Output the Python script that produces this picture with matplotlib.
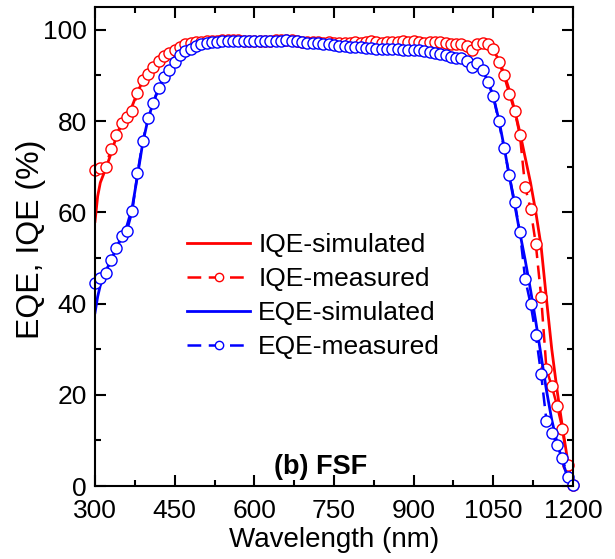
import numpy as np
import matplotlib
matplotlib.use("Agg")
import matplotlib.pyplot as plt
from matplotlib.ticker import MultipleLocator

plt.rcParams["font.family"] = ["Liberation Sans", "DejaVu Sans"]

# measured data, 10 nm steps from 300 to 1200 nm
wl_meas = np.arange(300, 1201, 10)

iqe_meas = [
    69.2, 69.6, 69.9, 73.8, 76.9, 79.5, 80.8, 82.3, 86.1, 89.0,
    90.4, 91.8, 93.1, 94.2, 94.9, 95.6, 96.2, 96.8, 97.1, 97.3,
    97.4, 97.5, 97.6, 97.6, 97.7, 97.7, 97.7, 97.7, 97.6, 97.6,
    97.6, 97.6, 97.6, 97.6, 97.7, 97.8, 97.8, 97.7, 97.6, 97.4,
    97.4, 97.3, 97.3, 97.2, 97.3, 97.2, 97.0, 97.1, 97.2, 97.3,
    97.2, 97.3, 97.5, 97.4, 97.2, 97.4, 97.3, 97.4, 97.5, 97.4,
    97.5, 97.3, 97.2, 97.4, 97.3, 97.3, 97.1, 96.9, 96.8, 96.8,
    96.5, 95.5, 96.8, 97.1, 96.8, 95.8, 92.9, 90.0, 86.0, 82.3,
    76.9, 65.5, 60.8, 53.0, 41.5, 25.6, 21.9, 17.6, 12.6, 4.5,
    0.3,
]

eqe_meas = [
    44.5, 45.7, 46.7, 49.6, 52.2, 54.7, 55.9, 60.2, 68.6, 75.6,
    80.6, 84.0, 87.2, 89.6, 91.2, 93.0, 94.4, 95.3, 95.9, 96.4,
    96.8, 97.1, 97.3, 97.4, 97.5, 97.5, 97.5, 97.5, 97.5, 97.5,
    97.5, 97.5, 97.5, 97.5, 97.6, 97.6, 97.7, 97.6, 97.5, 97.3,
    97.2, 97.1, 97.0, 96.9, 96.8, 96.7, 96.5, 96.4, 96.3, 96.3,
    96.2, 96.1, 96.0, 95.9, 95.8, 95.8, 95.7, 95.7, 95.6, 95.6,
    95.5, 95.5, 95.4, 95.2, 95.0, 94.7, 94.4, 94.1, 93.9, 93.8,
    93.1, 91.8, 92.7, 91.1, 88.5, 85.4, 80.0, 74.2, 68.1, 62.3,
    55.7, 45.3, 40.0, 33.1, 24.5, 14.3, 11.7, 9.0, 6.1, 2.0,
    0.2,
]

# simulated curves
wl_iqe_sim = [
    300, 305, 310, 320, 330, 340, 350, 360, 370, 380, 390, 400, 410, 420,
    430, 440, 450, 460, 470, 480, 500, 550, 600, 650, 700, 750, 800, 850,
    900, 950, 1000, 1020, 1040, 1050, 1060, 1070, 1080, 1090, 1100, 1110,
    1120, 1130, 1140, 1150, 1160, 1170, 1180, 1190, 1197,
]
iqe_sim = [
    58.0, 63.5, 66.5, 69.5, 72.8, 76.5, 79.3, 81.3, 83.3, 86.3, 88.8, 90.6, 92.0, 93.2,
    94.2, 95.0, 95.7, 96.3, 96.8, 97.1, 97.4, 97.7, 97.7, 97.8, 97.5, 97.3, 97.3, 97.4,
    97.4, 97.3, 96.9, 96.7, 96.3, 95.5, 93.5, 90.5, 86.8, 82.5, 77.5, 72.0,
    66.5, 60.0, 52.5, 41.0, 30.0, 21.0, 13.0, 5.5, 0.5,
]

wl_eqe_sim = [
    300, 305, 310, 320, 330, 340, 350, 360, 370, 380, 390, 400, 410, 420,
    430, 440, 450, 460, 470, 480, 500, 520, 550, 600, 650, 700, 750, 800,
    850, 900, 950, 1000, 1020, 1030, 1040, 1050, 1060, 1070, 1080, 1090,
    1100, 1110, 1120, 1130, 1140, 1150, 1160, 1170, 1180, 1190, 1196,
]
eqe_sim = [
    38.0, 41.5, 44.0, 47.0, 49.5, 52.0, 54.5, 57.0, 61.0, 68.0, 75.3, 80.5, 84.2, 87.3,
    89.7, 91.5, 93.0, 94.3, 95.2, 95.9, 96.8, 97.3, 97.5, 97.5, 97.6, 97.2, 96.7, 96.2,
    95.8, 95.5, 94.8, 93.3, 92.2, 91.0, 88.7, 85.3, 80.5, 74.5, 68.0, 61.8,
    55.5, 49.5, 43.0, 36.0, 28.5, 21.0, 14.5, 9.5, 5.5, 1.8, 0.0,
]

RED = "#ff0000"
BLUE = "#0000ff"

fig = plt.figure(figsize=(6.15, 5.59), dpi=100)
ax = fig.add_axes([95 / 615, 73 / 559, 478 / 615, 479 / 559])

meas_style = dict(ls=(0, (5.5, 3)), lw=1.8, marker="o", ms=8, mfc="white",
                  mew=1.0, clip_on=False)

ax.plot(wl_iqe_sim, iqe_sim, color=RED, lw=2.0, label="IQE-simulated")
ax.plot(wl_meas, iqe_meas, color=RED, mec=RED, label="IQE-measured", **meas_style)
ax.plot(wl_eqe_sim, eqe_sim, color=BLUE, lw=2.0, label="EQE-simulated")
ax.plot(wl_meas, eqe_meas, color=BLUE, mec=BLUE, label="EQE-measured", **meas_style)

ax.set_xlim(300, 1200)
ax.set_ylim(0, 105)
ax.xaxis.set_major_locator(MultipleLocator(150))
ax.xaxis.set_minor_locator(MultipleLocator(75))
ax.yaxis.set_major_locator(MultipleLocator(20))
ax.yaxis.set_minor_locator(MultipleLocator(10))

ax.tick_params(which="both", direction="in", top=True, right=True, width=1.5,
               labelsize=19)
ax.tick_params(which="major", length=8)
ax.tick_params(which="minor", length=4.5)
ax.tick_params(axis="x", which="major", pad=9)
ax.tick_params(axis="y", which="major", pad=6)
for sp in ax.spines.values():
    sp.set_linewidth(1.5)

ax.set_xlabel("Wavelength (nm)", fontsize=20, labelpad=3)
ax.set_ylabel("EQE, IQE (%)", fontsize=23, labelpad=2)
ax.yaxis.set_label_coords(-0.103, 0.515)

ax.legend(loc="upper left", bbox_to_anchor=((187 - 95) / 478, (486 - 233) / 479),
          frameon=False, fontsize=19, handlelength=2.4, handletextpad=0.3,
          labelspacing=0.38, borderpad=0, borderaxespad=0, markerscale=0.75)

ax.text(0.473, 0.04, "(b) FSF", transform=ax.transAxes, ha="center", va="center",
        fontsize=19.5, fontweight="bold")

fig.savefig("out.png", dpi=100)
